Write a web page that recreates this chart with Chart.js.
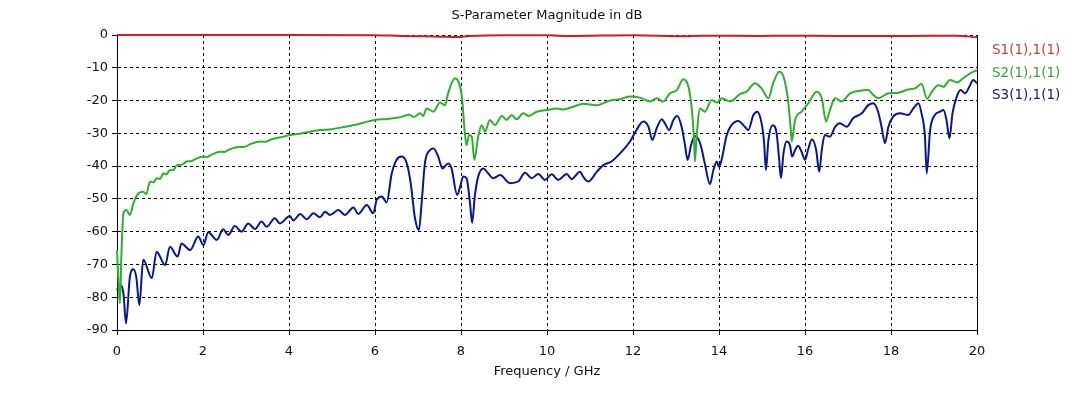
<!DOCTYPE html>
<html>
<head>
<meta charset="utf-8">
<title>S-Parameter Magnitude in dB</title>
<script src="https://cdn.jsdelivr.net/npm/chart.js@4.4.1/dist/chart.umd.min.js"></script>
<style>
  html, body { margin: 0; padding: 0; background: #fff; }
  #chart { display: block; }
</style>
</head>
<body>
<canvas id="chart" width="1081" height="393"></canvas>
<script>
// frequency in GHz, magnitude in dB
const seriesNames = ['S1(1),1(1)', 'S2(1),1(1)', 'S3(1),1(1)'];
const xTicks = [0, 2, 4, 6, 8, 10, 12, 14, 16, 18, 20];
const yTicks = [0, -10, -20, -30, -40, -50, -60, -70, -80, -90];

const s1Data = [
    [0, 0], [2, 0], [4, 0], [6, -0.05], [6.6, -0.3], [7.1, -0.4], [7.5, -0.5], [7.9, -0.6],
    [8.2, -0.3], [9, -0.1], [10, -0.1], [10.5, -0.3], [12, -0.05], [13.2, -0.4], [13.6, -0.2],
    [15, -0.3], [15.5, -0.2], [16.8, -0.3], [18.4, -0.3], [19.5, -0.2], [20, -0.7]
];

const s2Data = [
    [0, -65.6], [0.03, -74.0], [0.07, -81.9], [0.10, -68.0], [0.15, -54.4], [0.22, -53.4],
    [0.30, -54.9], [0.38, -51.4], [0.50, -48.3], [0.61, -47.8], [0.68, -48.6], [0.77, -44.7],
    [0.85, -44.9], [0.92, -43.7], [1.00, -43.9], [1.08, -42.2], [1.15, -42.5], [1.23, -41.2],
    [1.31, -41.3], [1.39, -39.7], [1.50, -39.6], [1.62, -38.6], [1.72, -38.5], [1.80, -38.0],
    [2.01, -37.1], [2.10, -37.2], [2.20, -36.5], [2.40, -35.6], [2.50, -35.7], [2.60, -35.0],
    [2.86, -34.1], [2.95, -34.2], [3.10, -33.3], [3.33, -32.5], [3.45, -32.6], [3.60, -31.8],
    [3.87, -31.0], [4.02, -30.5], [4.25, -30.1], [4.49, -29.5], [4.72, -29.0],
    [4.95, -28.8], [5.30, -28.0], [5.60, -27.2], [5.80, -26.5], [6.00, -25.9], [6.30, -25.6],
    [6.58, -25.1], [6.80, -24.3], [6.90, -25.0], [7.05, -23.9], [7.12, -24.7], [7.20, -22.4],
    [7.36, -23.4], [7.51, -20.6], [7.63, -21.4], [7.70, -17.8], [7.86, -13.2], [7.94, -14.2],
    [8.02, -18.8], [8.09, -30.0], [8.13, -33.6], [8.19, -30.5], [8.25, -31.0], [8.31, -38.1],
    [8.40, -31.0], [8.48, -27.5], [8.56, -29.5], [8.67, -25.9], [8.79, -27.5], [8.95, -24.7],
    [9.06, -25.9], [9.18, -24.4], [9.29, -25.7], [9.45, -23.9], [9.57, -24.7], [9.76, -23.4],
    [9.99, -22.9], [10.23, -22.4], [10.38, -22.7], [10.61, -21.9], [10.84, -21.0], [11.16, -21.4],
    [11.47, -20.0], [11.70, -19.6], [11.93, -18.8], [12.16, -19.1], [12.40, -20.3], [12.55, -19.3],
    [12.70, -20.3], [12.86, -17.8], [13.02, -16.8], [13.17, -13.5], [13.29, -15.8], [13.37, -22.9],
    [13.42, -32.0], [13.44, -38.6], [13.48, -31.0], [13.56, -22.4], [13.67, -23.4], [13.83, -19.8],
    [13.95, -20.6], [14.06, -19.3], [14.26, -20.3], [14.49, -18.0], [14.64, -17.3], [14.84, -14.7],
    [14.99, -16.3], [15.15, -19.3], [15.26, -14.7], [15.40, -11.2], [15.50, -12.7], [15.61, -20.3],
    [15.67, -29.0], [15.69, -32.5], [15.77, -25.9], [15.92, -23.4], [16.08, -20.8], [16.27, -17.3],
    [16.39, -19.3], [16.49, -26.4], [16.58, -22.9], [16.70, -19.3], [16.85, -20.3], [17.05, -17.8],
    [17.24, -17.1], [17.47, -16.8], [17.59, -18.3], [17.70, -19.3], [17.94, -17.8], [18.17, -17.6],
    [18.40, -16.6], [18.56, -16.3], [18.71, -14.9], [18.84, -19.5], [18.95, -17.3], [19.10, -15.3],
    [19.22, -15.8], [19.37, -13.7], [19.53, -14.5], [19.68, -13.2], [19.84, -11.7], [20.00, -10.7]
];

const s3Data = [
    [0, -77.8], [0.07, -76.3], [0.15, -78.8], [0.21, -88.0], [0.30, -73.7], [0.38, -71.5],
    [0.45, -74.0], [0.52, -82.4], [0.61, -68.6], [0.81, -74.2], [0.92, -66.1],
    [1.12, -70.2], [1.23, -64.6], [1.41, -67.6], [1.50, -63.6], [1.70, -65.6],
    [1.89, -61.5], [2.01, -64.1], [2.12, -60.2], [2.32, -62.5], [2.47, -59.3], [2.59, -61.0],
    [2.74, -58.3], [2.90, -60.0], [3.05, -57.5], [3.21, -59.2], [3.36, -56.9], [3.48, -58.5],
    [3.67, -55.9], [3.79, -57.5], [4.02, -55.2], [4.10, -56.6], [4.26, -54.6], [4.41, -56.2],
    [4.57, -54.4], [4.72, -55.6], [4.84, -53.9], [4.95, -54.9], [5.15, -53.4], [5.30, -54.9],
    [5.50, -52.6], [5.61, -54.6], [5.81, -51.9], [5.96, -54.4], [6.04, -50.3], [6.16, -49.3],
    [6.27, -51.1], [6.39, -42.2], [6.50, -38.1], [6.62, -37.1], [6.74, -39.2], [6.83, -45.2],
    [6.93, -55.9], [7.02, -59.5], [7.09, -50.3], [7.16, -39.2], [7.28, -35.1], [7.36, -34.6],
    [7.47, -37.1], [7.57, -40.7], [7.70, -39.2], [7.78, -40.7], [7.91, -48.8], [7.98, -46.3],
    [8.05, -43.2], [8.13, -43.7], [8.21, -51.4], [8.26, -57.3], [8.32, -49.3], [8.40, -43.2],
    [8.52, -40.7], [8.63, -42.2], [8.75, -43.7], [8.91, -42.7], [9.14, -45.2], [9.33, -44.7],
    [9.49, -42.0], [9.64, -43.7], [9.80, -42.4], [9.95, -44.2], [10.11, -42.5], [10.26, -44.2],
    [10.46, -42.4], [10.57, -44.0], [10.77, -41.7], [10.84, -43.2], [10.96, -44.7], [11.16, -41.7],
    [11.31, -39.7], [11.50, -38.6], [11.70, -36.1], [11.93, -32.5], [12.08, -29.0], [12.24, -26.4],
    [12.36, -28.0], [12.45, -32.0], [12.55, -28.5], [12.67, -25.7], [12.74, -26.9], [12.84, -29.0],
    [12.94, -25.9], [13.03, -24.7], [13.13, -28.0], [13.21, -33.6], [13.27, -38.1], [13.35, -33.6],
    [13.44, -30.8], [13.56, -33.0], [13.67, -39.2], [13.79, -45.5], [13.87, -41.2], [13.95, -38.6],
    [14.00, -40.2], [14.06, -38.1], [14.18, -30.5], [14.29, -27.5], [14.45, -26.2], [14.60, -28.0],
    [14.68, -29.0], [14.80, -24.4], [14.89, -23.4], [14.99, -26.9], [15.05, -33.0], [15.09, -41.2],
    [15.15, -32.0], [15.25, -27.5], [15.34, -30.0], [15.40, -38.1], [15.44, -43.7], [15.50, -36.1],
    [15.57, -32.5], [15.65, -33.6], [15.70, -37.1], [15.77, -35.1], [15.84, -33.8], [15.92, -35.6],
    [16.00, -38.1], [16.08, -34.6], [16.16, -31.8], [16.26, -35.1], [16.33, -41.7], [16.39, -35.1],
    [16.46, -30.5], [16.58, -31.0], [16.70, -28.0], [16.81, -26.9], [16.97, -28.0], [17.12, -25.4],
    [17.32, -23.9], [17.47, -21.4], [17.59, -20.8], [17.70, -23.4], [17.78, -28.0], [17.86, -33.0],
    [17.94, -28.0], [18.05, -24.9], [18.21, -23.9], [18.40, -24.4], [18.52, -22.4], [18.64, -20.8],
    [18.71, -23.9], [18.79, -31.0], [18.83, -42.2], [18.91, -29.0], [19.02, -24.4], [19.14, -23.4],
    [19.22, -22.9], [19.29, -25.9], [19.36, -31.5], [19.43, -23.9], [19.53, -18.8], [19.62, -16.8],
    [19.72, -17.8], [19.84, -15.3], [19.91, -13.7], [20.00, -14.7]
];

const lineColors = ['rgb(208, 28, 36)', 'rgb(46, 176, 46)', 'rgb(12, 22, 140)'];
const legendColors = ['#b84444', '#3e9e3e', '#1c1c5c'];

function toXY(arr) {
    return arr.map(p => ({ x: p[0], y: p[1] }));
}

// title, legend text, axis caption and right frame edge
const decorations = {
    id: 'decorations',
    afterDraw(chart) {
        const ctx = chart.ctx;
        const area = chart.chartArea;
        ctx.save();

        ctx.strokeStyle = '#000';
        ctx.lineWidth = 1;
        ctx.beginPath();
        ctx.moveTo(Math.round(area.right) + 0.5, area.top);
        ctx.lineTo(Math.round(area.right) + 0.5, area.bottom);
        ctx.stroke();

        ctx.fillStyle = '#111';
        ctx.font = '13px "DejaVu Sans"';
        ctx.textAlign = 'center';
        ctx.textBaseline = 'middle';
        ctx.fillText('S-Parameter Magnitude in dB', (area.left + area.right) / 2, 16);
        ctx.fillText('Frequency / GHz', (area.left + area.right) / 2, 372);

        ctx.textAlign = 'left';
        ctx.font = '13.5px "DejaVu Sans"';
        const legendY = [50, 73, 95];
        seriesNames.forEach((name, i) => {
            ctx.fillStyle = legendColors[i];
            ctx.fillText(name, area.right + 15, legendY[i]);
        });
        ctx.restore();
    }
};

const ctx = document.getElementById('chart').getContext('2d');
const SParamChart = new Chart(ctx, {
    type: 'line',
    data: {
        datasets: [
            { label: seriesNames[0], data: toXY(s1Data), borderColor: lineColors[0], clip: 4 },
            { label: seriesNames[1], data: toXY(s2Data), borderColor: lineColors[1], clip: 4 },
            { label: seriesNames[2], data: toXY(s3Data), borderColor: lineColors[2], clip: 4 }
        ]
    },
    options: {
        responsive: false,
        animation: false,
        devicePixelRatio: 1,
        layout: { padding: { top: 35, right: 104, left: 0, bottom: 0 } },
        elements: {
            line: { borderWidth: 2, cubicInterpolationMode: 'monotone', fill: false },
            point: { radius: 0 }
        },
        plugins: {
            legend: { display: false },
            title: { display: false },
            tooltip: { enabled: false }
        },
        scales: {
            x: {
                type: 'linear',
                min: 0,
                max: 20,
                afterBuildTicks: axis => { axis.ticks = xTicks.map(v => ({ value: v })); },
                afterFit: axis => { axis.height = 63; },
                ticks: {
                    color: '#111',
                    font: { family: 'DejaVu Sans', size: 13 },
                    padding: 9,
                    maxRotation: 0
                },
                grid: {
                    color: '#000',
                    lineWidth: 1,
                    tickLength: 5,
                    tickColor: '#000',
                    tickBorderDash: []
                },
                border: { display: true, color: '#000', width: 1, dash: [3, 3] }
            },
            y: {
                type: 'linear',
                min: -90,
                max: 0,
                afterBuildTicks: axis => { axis.ticks = yTicks.map(v => ({ value: v })); },
                afterFit: axis => { axis.width = 117; },
                ticks: {
                    color: '#111',
                    font: { family: 'DejaVu Sans', size: 13 },
                    padding: 4
                },
                grid: {
                    color: '#000',
                    lineWidth: 1,
                    tickLength: 5,
                    tickColor: '#000',
                    tickBorderDash: []
                },
                border: { display: true, color: '#000', width: 1, dash: [3, 3] }
            }
        }
    },
    plugins: [decorations]
});
console.log("Loaded");
</script>
</body>
</html>
